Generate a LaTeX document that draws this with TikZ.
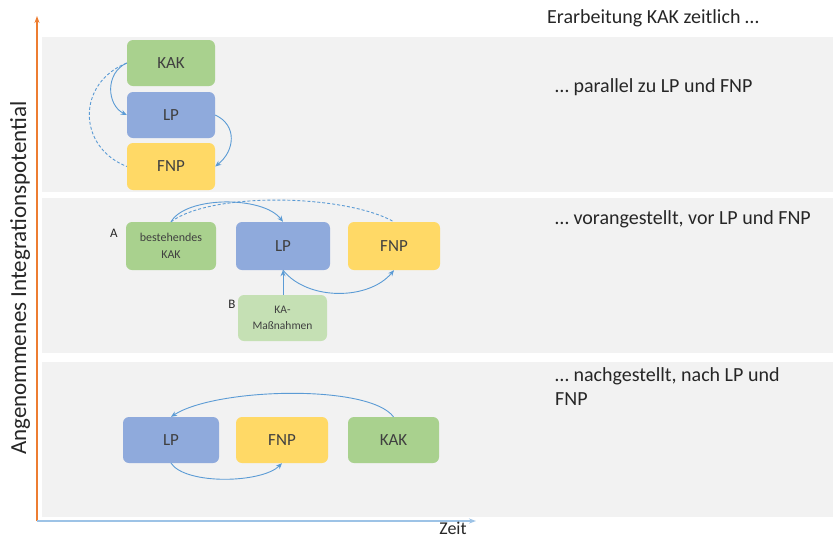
\documentclass[tikz,border=0pt]{standalone}
\usepackage{fontspec}
\setmainfont{Carlito}
\usetikzlibrary{arrows.meta}
\definecolor{panelgray}{HTML}{F2F2F2}
\definecolor{kakgreen}{HTML}{A9D18E}
\definecolor{lpblue}{HTML}{8FAADC}
\definecolor{fnpyellow}{HTML}{FFD966}
\definecolor{kagreen}{HTML}{C5E0B4}
\definecolor{arrowblue}{HTML}{5B9BD5}
\definecolor{axisorange}{HTML}{ED7D31}
\definecolor{axisblue}{HTML}{9DC3E6}
\definecolor{nodetext}{HTML}{404040}
\definecolor{maintext}{HTML}{262626}
\begin{document}
\begin{tikzpicture}[x=1pt,y=1pt,
  box/.style={rounded corners=6pt, inner sep=0pt, align=center, text=nodetext,
    font=\fontsize{17}{20}\selectfont},
  kakbox/.style={box, fill=kakgreen},
  lpbox/.style={box, fill=lpblue},
  fnpbox/.style={box, fill=fnpyellow},
  kabox/.style={box, fill=kagreen},
  smalltext/.style={font=\fontsize{12}{17}\selectfont},
  rtext/.style={anchor=west, text=maintext, inner sep=0pt, align=left,
    font=\fontsize{20}{24}\selectfont},
  conn/.style={draw=arrowblue, line width=0.9pt, -{Stealth[length=6pt,width=5pt]}},
  dconn/.style={draw=arrowblue, line width=0.9pt, dashed, dash pattern=on 3pt off 2pt},
  panel/.style={fill=panelgray, draw=none}
]
\useasboundingbox (0,0) rectangle (833,-539);
% panels
\fill[panel] (42,-37) rectangle (833,-192);
\fill[panel] (42,-198) rectangle (833,-353);
\fill[panel] (42,-362) rectangle (833,-517);

% axes
\coordinate (origin) at (37,-521);
\coordinate (ytip) at (37,-16);
\coordinate (xtip) at (476,-521);
\draw[axisorange, line width=1.4pt, -{Stealth[length=7pt,width=5pt]}] (origin) -- (ytip);
\draw[axisblue, line width=1.2pt, -{Stealth[length=7pt,width=5pt]}] (origin) -- (xtip);
\node[text=maintext, inner sep=0pt, anchor=base, font=\fontsize{18}{20}\selectfont] (zeit) at (453,-534) {Zeit};
\node[rotate=90, text=maintext, font=\fontsize{23}{26}\selectfont] (ylab) at (20,-278) {Angenommenes Integrationspotential};

% right texts
\node[rtext] (t0) at (547,-18) {Erarbeitung KAK zeitlich \ldots};
\node[rtext] (t1) at (555,-87) {\ldots\ parallel zu LP und FNP};
\node[rtext] (t2) at (555,-219) {\ldots\ vorangestellt, vor LP und FNP};
\node[rtext, anchor=north west] (t3) at (555,-367) {\ldots\ nachgestellt, nach LP und\\FNP};

% panel 1
\node[kakbox, minimum width=88pt, minimum height=46pt] (k1) at (171,-63) {KAK};
\node[lpbox, minimum width=88pt, minimum height=46pt] (l1) at (171,-115) {LP};
\node[fnpbox, minimum width=88pt, minimum height=47pt] (f1) at (171,-166.5) {FNP};
\draw[conn] (k1.west) .. controls +(-22,-10) and +(-20,10) .. (l1.west);
\draw[dconn] (k1.west) .. controls +(-50,-20) and +(-50,20) .. (f1.west);
\draw[conn] (l1.east) .. controls +(22,-10) and +(20,16) .. (f1.east);

% panel 2
\node[kakbox, smalltext, minimum width=90pt, minimum height=48pt] (b2) at (171,-246) {bestehendes\\KAK};
\node[lpbox, minimum width=94pt, minimum height=48pt] (l2) at (283,-246) {LP};
\node[fnpbox, minimum width=92pt, minimum height=48pt] (f2) at (394,-246) {FNP};
\node[kabox, font=\fontsize{11.5}{16}\selectfont, minimum width=89pt, minimum height=46pt] (ka2) at (282.5,-318) {KA-\\Maßnahmen};
\node[text=maintext, font=\fontsize{13}{15}\selectfont] (la) at (114,-233) {A};
\node[text=maintext, font=\fontsize{13}{15}\selectfont] (lb) at (232,-304) {B};
\draw[conn] (b2.north) .. controls +(15,26) and +(-20,26) .. (l2.north);
\draw[dconn] (b2.north) .. controls +(40,30) and +(-50,28) .. (f2.north);
\draw[conn] (ka2.north -| l2.south) -- (l2.south);
\draw[conn] (l2.south) .. controls +(25,-31) and +(-25,-30) .. (f2.south);

% panel 3
\node[lpbox, minimum width=96pt, minimum height=46pt] (l3) at (171,-440) {LP};
\node[fnpbox, minimum width=92pt, minimum height=46pt] (f3) at (282,-440) {FNP};
\node[kakbox, minimum width=91pt, minimum height=46pt] (k3) at (393.5,-440) {KAK};
\draw[conn] (k3.north) .. controls +(-25,33) and +(45,29) .. (l3.north);
\draw[conn] (l3.south) .. controls +(15,-22) and +(-20,-20) .. (f3.south);
\end{tikzpicture}
\end{document}
